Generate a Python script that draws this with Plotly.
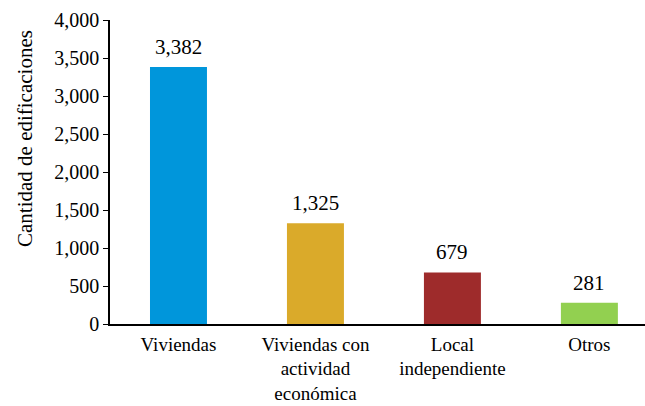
import plotly.graph_objects as go

categories = ["Viviendas", "Viviendas con<br>actividad<br>económica", "Local<br>independiente", "Otros"]
values = [3382, 1325, 679, 281]
colors = ["#0096DB", "#DAAA2A", "#9E2B2B", "#92D050"]
yticks = [0, 500, 1000, 1500, 2000, 2500, 3000, 3500, 4000]

font = "Liberation Serif, Times New Roman, serif"

fig = go.Figure(go.Bar(
    x=categories, y=values, marker_color=colors, marker_line_width=0, hoverinfo="skip",
))
for c, v in zip(categories, values):
    fig.add_annotation(x=c, y=v, text=f"{v:,}", showarrow=False, yanchor="bottom",
                       yshift=6, font=dict(size=21, color="black", family=font))
fig.add_annotation(xref="paper", yref="paper", x=-(110 - 25) / 535, y=(324 - 139) / 304,
                   xanchor="center", yanchor="middle",
                   text="Cantidad de edificaciones", textangle=-90, showarrow=False,
                   font=dict(size=21, color="black", family=font))
fig.update_layout(
    width=645, height=406, margin=dict(l=110, r=0, t=20, b=82, autoexpand=False),
    plot_bgcolor="white", paper_bgcolor="white", showlegend=False,
    bargap=0.584, font=dict(family=font, size=19, color="black"),
)
fig.update_xaxes(range=[-0.5, 3.406], showline=True, linecolor="black", linewidth=1.5,
                 ticks="", tickfont=dict(size=19, family=font, color="black"),
                 ticklabelstandoff=2, showgrid=False, automargin=False)
fig.update_yaxes(range=[0, 4000], tickvals=yticks, tickformat=",", ticksuffix="\u00a0",
                 showline=True,
                 linecolor="black", linewidth=1.5, ticks="outside", ticklen=5,
                 tickcolor="black", showgrid=False, zeroline=False, automargin=False,
                 tickfont=dict(size=20, family=font, color="black"))
fig.write_html("out.html", config={"displayModeBar": False},
               post_script="document.body.style.margin='0';")
